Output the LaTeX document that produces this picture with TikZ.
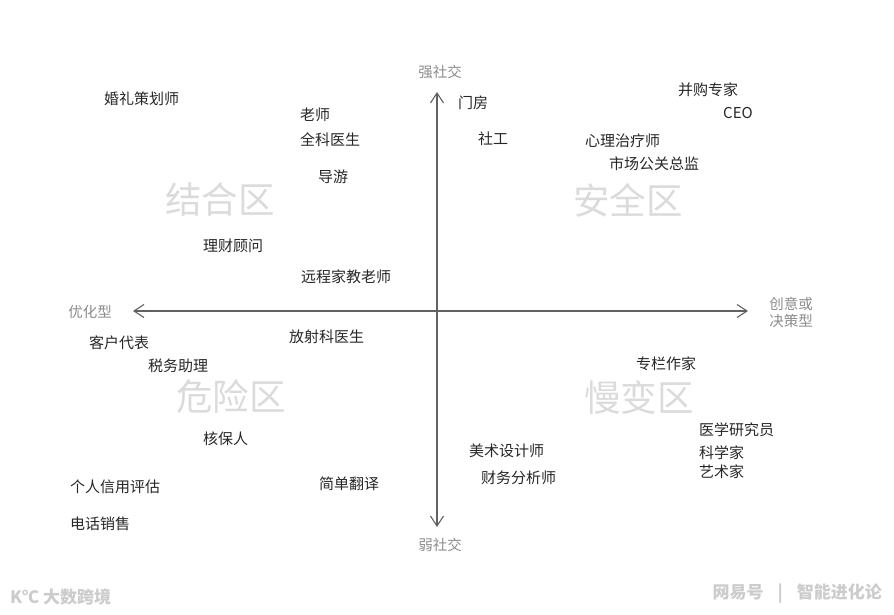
\documentclass[tikz,border=0pt]{standalone}
\usepackage{fontspec}
\setmainfont{Noto Sans CJK SC}
\usetikzlibrary{arrows.meta}

\tikzset{
  job/.style={anchor=west, inner sep=0pt, font=\fontsize{15}{17}\selectfont, text=black!85},
  zone/.style={inner sep=0pt, font=\fontsize{36.5}{40}\selectfont, text=black!14},
  axislabel/.style={inner sep=0pt, font=\fontsize{14.5}{17}\selectfont, text=black!45, align=left},
  axisline/.style={draw=black!62, line width=1.1pt, -{Straight Barb[length=10pt, width=13pt, line width=1.1pt]}},
  watermark/.style={inner sep=0pt, font=\fontsize{17}{20}\selectfont\bfseries, text=black!20}
}

\begin{document}
\begin{tikzpicture}[x=1pt, y=-1pt]
  \useasboundingbox (0,0) rectangle (894,614);
  \coordinate (O) at (437,311);
  \coordinate (top) at (437,92);
  \coordinate (bot) at (437,527);
  \coordinate (lft) at (133,311);
  \coordinate (rgt) at (748,311);
  \draw[axisline] (O) -- (top);
  \draw[axisline] (O) -- (bot);
  \draw[axisline] (O) -- (lft);
  \draw[axisline] (O) -- (rgt);

  \node[axislabel] (strong) at (440,72) {强社交};
  \node[axislabel] (weak) at (440,545) {弱社交};
  \node[axislabel] (optim) at (90,312) {优化型};
  \node[axislabel] (creative) at (791,312) {创意或\\决策型};

  \node[zone] (zjoin) at (220,200) {结合区};
  \node[zone] (zsafe) at (628,200) {安全区};
  \node[zone] (zdanger) at (231,397) {危险区};
  \node[zone] (zslow) at (639,397) {慢变区};

  \node[job] (wedding) at (104,99) {婚礼策划师};
  \node[job] (teacher) at (300,115) {老师};
  \node[job] (gp) at (300,140) {全科医生};
  \node[job] (guide) at (318,177) {导游};
  \node[job] (advisor) at (203,246) {理财顾问};
  \node[job] (tutor) at (301,277) {远程家教老师};

  \node[job] (porter) at (458,103) {门房};
  \node[job] (social) at (478,139) {社工};
  \node[job] (mna) at (678,90) {并购专家};
  \node[job] (ceo) at (723,113) {CEO};
  \node[job] (therapist) at (585,141) {心理治疗师};
  \node[job] (pr) at (609,164) {市场公关总监};

  \node[job] (rep) at (89,343) {客户代表};
  \node[job] (tax) at (148,366) {税务助理};
  \node[job] (radio) at (289,337) {放射科医生};
  \node[job] (under) at (203,439) {核保人};
  \node[job] (credit) at (70,487) {个人信用评估};
  \node[job] (tele) at (70,524) {电话销售};
  \node[job] (transl) at (319,484) {简单翻译};

  \node[job] (column) at (636,364) {专栏作家};
  \node[job] (medres) at (699,430) {医学研究员};
  \node[job] (sci) at (699,453) {科学家};
  \node[job] (artist) at (699,472) {艺术家};
  \node[job] (design) at (469,451) {美术设计师};
  \node[job] (analyst) at (481,478) {财务分析师};

  \node[watermark, anchor=west] (wm1) at (10,597) {K℃ 大数跨境};
  \node[watermark, anchor=east] (wm2) at (882,594) {网易号\hspace{14pt}\textbar\hspace{14pt}智能进化论};
\end{tikzpicture}
\end{document}
